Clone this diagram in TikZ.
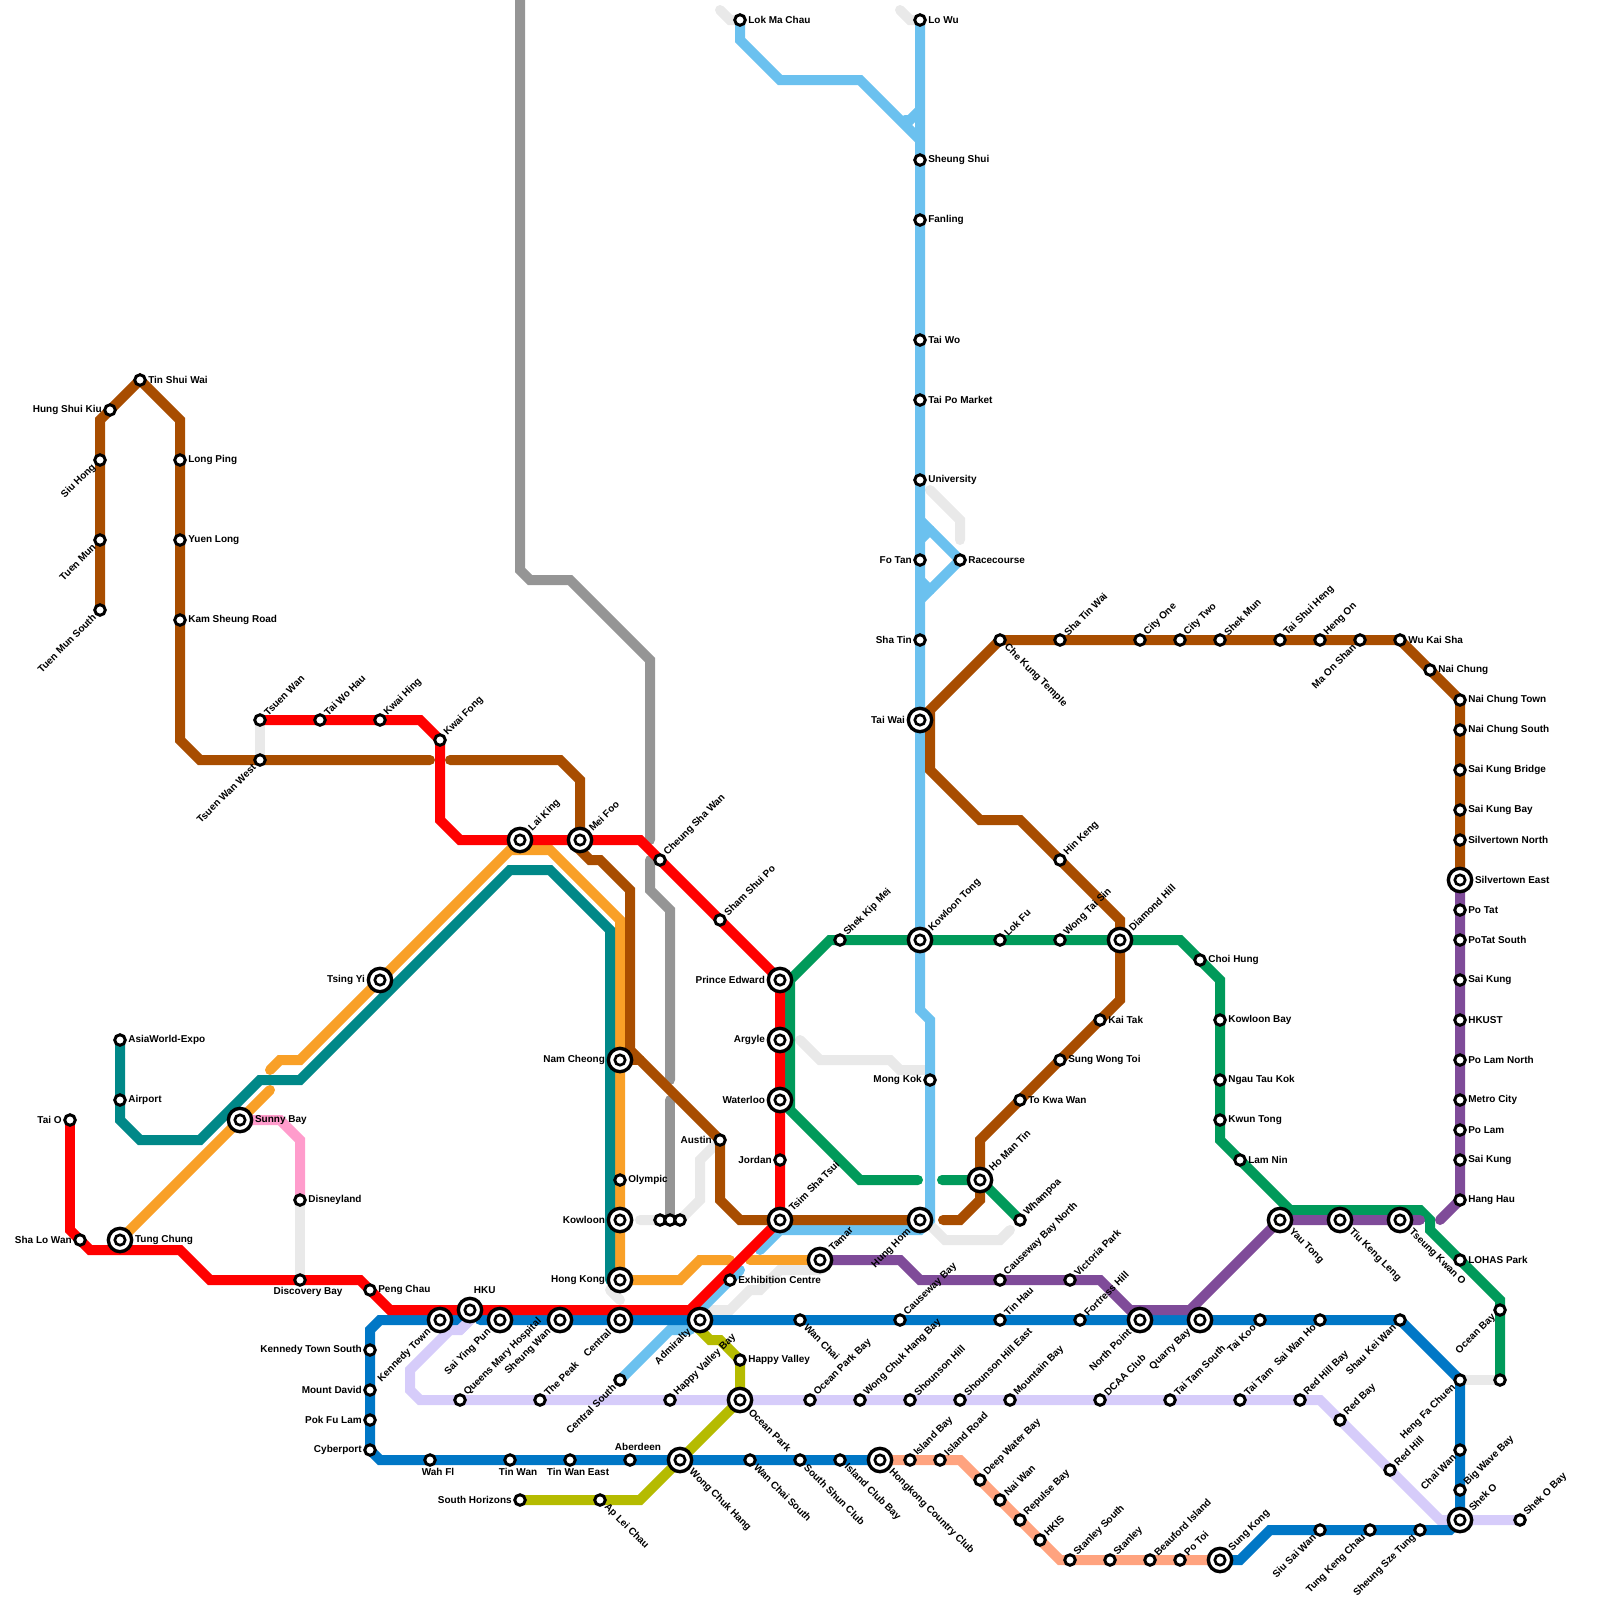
\documentclass[tikz,border=0pt]{standalone}
\usepackage{fontspec}
\setmainfont{Liberation Sans}
\usetikzlibrary{backgrounds}

\definecolor{railred}{HTML}{FF0000}
\definecolor{railbrown}{HTML}{A84D00}
\definecolor{railsky}{HTML}{6BC1EF}
\definecolor{railteal}{HTML}{008888}
\definecolor{railorange}{HTML}{F9A027}
\definecolor{railgreen}{HTML}{009A5A}
\definecolor{railblue}{HTML}{0077C6}
\definecolor{railpurple}{HTML}{7F4B99}
\definecolor{raillilac}{HTML}{D6CCFA}
\definecolor{railsalmon}{HTML}{FFA37F}
\definecolor{raillime}{HTML}{B5BB00}
\definecolor{railpink}{HTML}{FF9CCC}
\definecolor{railgrey}{HTML}{959595}
\definecolor{railpale}{HTML}{E9E9E9}

\tikzset{
  rail/.style={line width=7.11pt,line cap=round,line join=miter},
  stop/.style={circle,draw=black,fill=white,line width=2.1pt,minimum size=7.5pt,inner sep=0pt},
  hub/.style={circle,draw=black,fill=white,line width=2.4pt,minimum size=16.6pt,inner sep=0pt},
  hubcore/.style={circle,draw=black,fill=white,line width=1.9pt,minimum size=7.4pt,inner sep=0pt},
  txt/.style={font=\fontsize{7.1}{9}\selectfont\bfseries,inner sep=0pt},
  lblr/.style={txt,anchor=west,xshift=\ldist},
  lbll/.style={txt,anchor=east,xshift=-\ldist},
  lblur/.style={txt,rotate=45,anchor=west,xshift=\ldist},
  lbldr/.style={txt,rotate=-45,anchor=west,xshift=\ldist},
  lbldl/.style={txt,rotate=45,anchor=east,xshift=-\ldist},
  lblb/.style={txt,anchor=center,xshift=\ldist,yshift=-8.5pt},
  lblt/.style={txt,anchor=center,xshift=\ldist,yshift=\ldist+3.5pt},
}

\begin{document}
\begin{tikzpicture}[x=0.025cm,y=-0.025cm]
  \useasboundingbox (0,0) rectangle (1600,1600);

  % interchanges
  \def\ldist{10.5pt}
  \foreach \nm/\px/\py/\sty/\txt in {
    TungChung/120/1240/lblr/Tung Chung, SunnyBay/240/1120/lblr/Sunny Bay,
    TsingYi/380/980/lbll/Tsing Yi, KennedyTown/440/1320/lbldl/Kennedy Town,
    HKU/470/1310/lblt/HKU, SaiYingPun/500/1320/lbldl/Sai Ying Pun,
    SheungWan/560/1320/lbldl/Sheung Wan, Central/620/1320/lbldl/Central,
    Admiralty/700/1320/lbldl/Admiralty, HongKong/620/1280/lbll/Hong Kong,
    Kowloon/620/1220/lbll/Kowloon, NamCheong/620/1060/lbll/Nam Cheong,
    LaiKing/520/840/lblur/Lai King, MeiFoo/580/840/lblur/Mei Foo,
    PrinceEdward/780/980/lbll/Prince Edward, Argyle/780/1040/lbll/Argyle,
    Waterloo/780/1100/lbll/Waterloo, TsimShaTsui/780/1220/lblur/Tsim Sha Tsui,
    Tamar/820/1260/lblur/Tamar, HungHom/920/1220/lbldl/Hung Hom,
    KowloonTong/920/940/lblur/Kowloon Tong, TaiWai/920/720/lbll/Tai Wai,
    HoManTin/980/1180/lblur/Ho Man Tin, DiamondHill/1120/940/lblur/Diamond Hill,
    OceanPark/740/1400/lbldr/Ocean Park, WongChukHang/680/1460/lbldr/Wong Chuk Hang,
    CountryClub/880/1460/lbldr/Hongkong Country Club, NorthPoint/1140/1320/lbldl/North Point,
    QuarryBay/1200/1320/lbldl/Quarry Bay, SungKong/1220/1560/lblur/Sung Kong,
    YauTong/1280/1220/lbldr/Yau Tong, TiuKengLeng/1340/1220/lbldr/Tiu Keng Leng,
    TseungKwanO/1400/1220/lbldr/Tseung Kwan O, SilvertownEast/1460/880/lblr/Silvertown East,
    ShekO/1460/1520/lblur/Shek O}
  {
    \node[hub] (\nm) at (\px,\py) {};
    \node[hubcore] (\nm-c) at (\nm.center) {};
    \node[\sty] (\nm-l) at (\nm.center) {\txt};
  }

  % plain stops
  \def\ldist{5.7pt}
  \foreach \nm/\px/\py/\sty/\txt in {
    TaiO/70/1120/lbll/Tai O, ShaLoWan/80/1240/lbll/Sha Lo Wan,
    AsiaWorld/120/1040/lblr/AsiaWorld-Expo, Airport/120/1100/lblr/Airport,
    TuenMunSouth/100/610/lbldl/Tuen Mun South, TuenMun/100/540/lbldl/Tuen Mun,
    SiuHong/100/460/lbldl/Siu Hong, HungShuiKiu/110/410/lbll/Hung Shui Kiu,
    TinShuiWai/140/380/lblr/Tin Shui Wai, LongPing/180/460/lblr/Long Ping,
    YuenLong/180/540/lblr/Yuen Long, KamSheung/180/620/lblr/Kam Sheung Road,
    TsuenWan/260/720/lblur/Tsuen Wan, TsuenWanWest/260/760/lbldl/Tsuen Wan West,
    TaiWoHau/320/720/lblur/Tai Wo Hau, KwaiHing/380/720/lblur/Kwai Hing,
    KwaiFong/440/740/lblur/Kwai Fong, Disneyland/300/1200/lblr/Disneyland,
    DiscoveryBay/300/1280/lblb/Discovery Bay, PengChau/370/1290/lblr/Peng Chau,
    KTSouth/370/1350/lbll/Kennedy Town South, MountDavid/370/1390/lbll/Mount David,
    PokFuLam/370/1420/lbll/Pok Fu Lam, Cyberport/370/1450/lbll/Cyberport,
    WahFl/430/1460/lblb/Wah Fl, TinWan/510/1460/lblb/Tin Wan,
    TinWanEast/570/1460/lblb/Tin Wan East, Aberdeen/630/1460/lblt/Aberdeen,
    WanChaiSouth/750/1460/lbldr/Wan Chai South, ShunClub/800/1460/lbldr/South Shun Club,
    IslandClubBay/840/1460/lbldr/Island Club Bay, SouthHorizons/520/1500/lbll/South Horizons,
    ApLeiChau/600/1500/lbldr/Ap Lei Chau, QueensMary/460/1400/lblur/Queens Mary Hospital,
    ThePeak/540/1400/lblur/The Peak, HappyValleyBay/670/1400/lblur/Happy Valley Bay,
    OceanParkBay/810/1400/lblur/Ocean Park Bay, WongChukBay/860/1400/lblur/Wong Chuk Hang Bay,
    ShounsonHill/910/1400/lblur/Shounson Hill, ShounsonEast/960/1400/lblur/Shounson Hill East,
    MountainBay/1010/1400/lblur/Mountain Bay, DCAAClub/1100/1400/lblur/DCAA Club,
    TaiTamSouth/1170/1400/lblur/Tai Tam South, TaiTam/1240/1400/lblur/Tai Tam,
    RedHillBay/1300/1400/lblur/Red Hill Bay, RedBay/1340/1420/lblur/Red Bay,
    RedHill/1390/1470/lblur/Red Hill, ShekOBay/1520/1520/lblur/Shek O Bay,
    CentralSouth/620/1380/lbldl/Central South, HappyValley/740/1360/lblr/Happy Valley,
    Exhibition/730/1280/lblr/Exhibition Centre, Olympic/620/1180/lblr/Olympic,
    Austin/720/1140/lbll/Austin, Jordan/780/1160/lbll/Jordan,
    CheungShaWan/660/860/lblur/Cheung Sha Wan, ShamShuiPo/720/920/lblur/Sham Shui Po,
    ShekKipMei/840/940/lblur/Shek Kip Mei, LokFu/1000/940/lblur/Lok Fu,
    WongTaiSin/1060/940/lblur/Wong Tai Sin, ChoiHung/1200/960/lblr/Choi Hung,
    KowloonBay/1220/1020/lblr/Kowloon Bay, NgauTauKok/1220/1080/lblr/Ngau Tau Kok,
    KwunTong/1220/1120/lblr/Kwun Tong, LamNin/1240/1160/lblr/Lam Nin,
    HinKeng/1060/860/lblur/Hin Keng, KaiTak/1100/1020/lblr/Kai Tak,
    SungWongToi/1060/1060/lblr/Sung Wong Toi, ToKwaWan/1020/1100/lblr/To Kwa Wan,
    Whampoa/1020/1220/lblur/Whampoa, MongKok/930/1080/lbll/Mong Kok,
    LokMaChau/740/20/lblr/Lok Ma Chau, LoWu/920/20/lblr/Lo Wu,
    SheungShui/920/160/lblr/Sheung Shui, Fanling/920/220/lblr/Fanling,
    TaiWo/920/340/lblr/Tai Wo, TaiPoMarket/920/400/lblr/Tai Po Market,
    University/920/480/lblr/University, FoTan/920/560/lbll/Fo Tan,
    Racecourse/960/560/lblr/Racecourse, ShaTin/920/640/lbll/Sha Tin,
    CheKung/1000/640/lbldr/Che Kung Temple, ShaTinWai/1060/640/lblur/Sha Tin Wai,
    CityOne/1140/640/lblur/City One, CityTwo/1180/640/lblur/City Two,
    ShekMun/1220/640/lblur/Shek Mun, TaiShuiHeng/1280/640/lblur/Tai Shui Heng,
    HengOn/1320/640/lblur/Heng On, MaOnShan/1360/640/lbldl/Ma On Shan,
    WuKaiSha/1400/640/lblr/Wu Kai Sha, NaiChung/1430/670/lblr/Nai Chung,
    NaiChungTown/1460/700/lblr/Nai Chung Town, NaiChungSouth/1460/730/lblr/Nai Chung South,
    SaiKungBridge/1460/770/lblr/Sai Kung Bridge, SaiKungBay/1460/810/lblr/Sai Kung Bay,
    SilvertownNorth/1460/840/lblr/Silvertown North, PoTat/1460/910/lblr/Po Tat,
    PoTatSouth/1460/940/lblr/PoTat South, SaiKungA/1460/980/lblr/Sai Kung,
    HKUST/1460/1020/lblr/HKUST, PoLamNorth/1460/1060/lblr/Po Lam North,
    MetroCity/1460/1100/lblr/Metro City, PoLam/1460/1130/lblr/Po Lam,
    SaiKungB/1460/1160/lblr/Sai Kung, HangHau/1460/1200/lblr/Hang Hau,
    LOHAS/1460/1260/lblr/LOHAS Park, OceanBay/1500/1310/lbldl/Ocean Bay,
    CausewayNorth/1000/1280/lblur/Causeway Bay North, VictoriaPark/1070/1280/lblur/Victoria Park,
    WanChai/800/1320/lbldr/Wan Chai, CausewayBay/900/1320/lblur/Causeway Bay,
    TinHau/1000/1320/lblur/Tin Hau, FortressHill/1080/1320/lblur/Fortress Hill,
    TaiKoo/1260/1320/lbldl/Tai Koo, SaiWanHo/1320/1320/lbldl/Sai Wan Ho,
    ShauKeiWan/1400/1320/lbldl/Shau Kei Wan, HengFaChuen/1460/1380/lbldl/Heng Fa Chuen,
    ChaiWan/1460/1450/lbldl/Chai Wan, BigWaveBay/1460/1490/lblur/Big Wave Bay,
    SiuSaiWan/1320/1530/lbldl/Siu Sai Wan, TungKengChau/1370/1530/lbldl/Tung Keng Chau,
    SheungSzeTung/1420/1530/lbldl/Sheung Sze Tung, IslandBay/910/1460/lblur/Island Bay,
    IslandRoad/940/1460/lblur/Island Road, DeepWaterBay/980/1480/lblur/Deep Water Bay,
    NaiWan/1000/1500/lblur/Nai Wan, RepulseBay/1020/1520/lblur/Repulse Bay,
    HKIS/1040/1540/lblur/HKIS, StanleySouth/1070/1560/lblur/Stanley South,
    Stanley/1110/1560/lblur/Stanley, Beauford/1150/1560/lblur/Beauford Island,
    PoToi/1180/1560/lblur/Po Toi}
  {
    \node[stop] (\nm) at (\px,\py) {};
    \node[\sty] (\nm-l) at (\nm.center) {\txt};
  }
  \node[stop] (DepotA) at (660,1220) {};
  \node[stop] (DepotB) at (670,1220) {};
  \node[stop] (DepotC) at (680,1220) {};
  \node[stop] (DepotD) at (1500,1380) {};

  % lines, under the stations
  \begin{scope}[on background layer]
    \draw[rail,railpale] (900,10) -- (910,20) -- (LoWu.center);
    \draw[rail,railpale] (720,10) -- (730,20) -- (LokMaChau.center);
    \draw[rail,railpale] (930,490) -- (960,520) -- (960,540);
    \draw[rail,railpale] (TsuenWan.center) -- (TsuenWanWest.center);
    \draw[rail,railpale] (Disneyland.center) -- (DiscoveryBay.center);
    \draw[rail,railpale] (640,1220) -- (DepotC.center) -- (700,1200) -- (700,1160) -- (715,1145);
    \draw[rail,railpale] (610,1290) -- (620,1300);
    \draw[rail,railpale] (710,1310) -- (730,1310) -- (750,1290) -- (760,1290) -- (780,1270) -- (820,1270);
    \draw[rail,railpale] (800,1040) -- (820,1060) -- (890,1060) -- (900,1070) -- (925,1070);
    \draw[rail,railpale] (930,1225) -- (945,1240) -- (1000,1240) -- (1010,1230);
    \draw[rail,railpale] (HengFaChuen.center) -- (DepotD.center);

    \draw[rail,railgrey] (520,-10) -- (520,570) -- (530,580) -- (570,580) -- (650,660) -- (650,840);
    \draw[rail,railgrey] (650,860) -- (650,890) -- (670,910) -- (670,1080);
    \draw[rail,railgrey] (670,1100) -- (DepotB.center);

    \draw[rail,raillilac] (HKU.center) -- (470,1320) -- (460,1330) -- (450,1330) -- (410,1370) -- (410,1390)
      -- (420,1400) -- (1320,1400) -- (1440,1520) -- (ShekOBay.center);

    \draw[rail,railsky] (LokMaChau.center) -- (740,40) -- (780,80) -- (860,80) -- (920,140);
    \draw[rail,railsky] (905,120) -- (910,120) -- (920,110);
    \draw[rail,railsky] (LoWu.center) -- (920,1010) -- (930,1020) -- (930,1220) -- (920,1230) -- (780,1230) -- (760,1250);
    \draw[rail,railsky] (CentralSouth.center) -- (670,1330) -- (690,1330);
    \draw[rail,railsky] (680,1330) -- (740,1270);
    \draw[rail,railsky] (920,520) -- (Racecourse.center) -- (920,600);
    \draw[rail,railsky] (920,540) -- (930,530);
    \draw[rail,railsky] (920,580) -- (930,590);

    \draw[rail,railorange] (TungChung.center) -- (270,1090);
    \draw[rail,railorange] (270,1070) -- (280,1060) -- (300,1060) -- (510,850) -- (550,850) -- (620,920) -- (HongKong.center)
      -- (680,1280) -- (700,1260) -- (730,1260);
    \draw[rail,railorange] (750,1260) -- (Tamar.center);

    \draw[rail,railteal] (AsiaWorld.center) -- (120,1120) -- (140,1140) -- (200,1140) -- (260,1080) -- (300,1080)
      -- (510,870) -- (550,870) -- (610,930) -- (610,1280);

    \draw[rail,railpink] (SunnyBay.center) -- (280,1120) -- (300,1140) -- (Disneyland.center);

    \draw[rail,railsalmon] (CountryClub.center) -- (960,1460) -- (1060,1560) -- (SungKong.center);

    \draw[rail,railblue] (Cyberport.center) -- (380,1460) -- (CountryClub.center);
    \draw[rail,railblue] (Cyberport.center) -- (370,1330) -- (380,1320) -- (460,1320);
    \draw[rail,railblue] (480,1320) -- (1400,1320) -- (1460,1380) -- (ShekO.center) -- (1450,1530) -- (1270,1530)
      -- (1240,1560) -- (SungKong.center);

    \draw[rail,raillilac] (470,1320) -- (460,1330);

    \draw[rail,raillime] (Admiralty.center) -- (700,1330) -- (710,1340) -- (720,1340) -- (740,1360) -- (OceanPark.center)
      -- (640,1500) -- (SouthHorizons.center);

    \draw[rail,railbrown] (TuenMunSouth.center) -- (100,420) -- (TinShuiWai.center) -- (180,420) -- (180,740) -- (200,760) -- (430,760);
    \draw[rail,railbrown] (450,760) -- (560,760) -- (580,780) -- (MeiFoo.center) -- (580,850) -- (590,860) -- (600,860)
      -- (630,890) -- (630,1050) -- (Austin.center) -- (720,1200) -- (740,1220) -- (HungHom.center);
    \draw[rail,railbrown] (NamCheong.center) -- (640,1060);
    \draw[rail,railbrown] (943,1220) -- (960,1220) -- (980,1200) -- (980,1140) -- (1120,1000) -- (1120,920) -- (1020,820)
      -- (980,820) -- (930,770) -- (930,710) -- (CheKung.center) -- (1400,640) -- (1460,700) -- (SilvertownEast.center);

    \draw[rail,railgreen] (Whampoa.center) -- (HoManTin.center) -- (942,1180);
    \draw[rail,railgreen] (918,1180) -- (860,1180) -- (790,1110) -- (790,980) -- (830,940) -- (1180,940) -- (1220,980)
      -- (1220,1140) -- (1290,1210) -- (1420,1210) -- (1430,1220) -- (1430,1230) -- (1500,1300) -- (DepotD.center);

    \draw[rail,railpurple] (SilvertownEast.center) -- (HangHau.center) -- (1440,1220);
    \draw[rail,railpurple] (Tamar.center) -- (900,1260) -- (920,1280) -- (1100,1280) -- (1130,1310) -- (1190,1310)
      -- (1280,1220) -- (1420,1220);

    \draw[rail,railred] (TaiO.center) -- (70,1230) -- (90,1250) -- (180,1250) -- (210,1280) -- (360,1280) -- (390,1310)
      -- (690,1310) -- (TsimShaTsui.center);
    \draw[rail,railred] (TsimShaTsui.center) -- (PrinceEdward.center) -- (640,840) -- (460,840) -- (440,820) -- (440,740)
      -- (420,720) -- (TsuenWan.center);
  \end{scope}
\end{tikzpicture}
\end{document}
